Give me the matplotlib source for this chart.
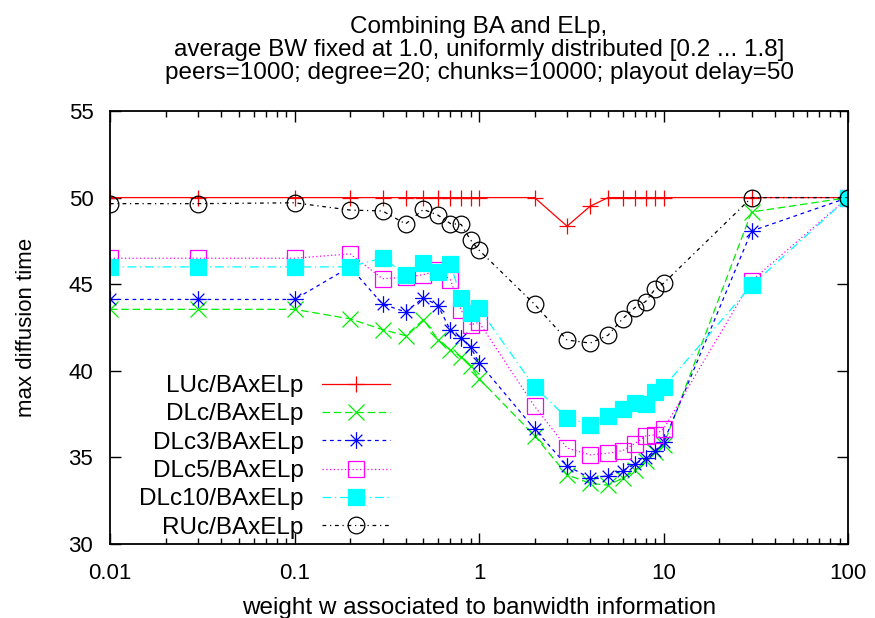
import matplotlib
matplotlib.use("Agg")
import matplotlib.pyplot as plt
from matplotlib.path import Path
from matplotlib.ticker import FuncFormatter, LogLocator, NullFormatter

plt.rcParams['font.family'] = ['Liberation Sans', 'DejaVu Sans']
plt.rcParams['font.size'] = 17.5

# weight w values (x axis)
weights = [0.01, 0.03, 0.1, 0.2, 0.3, 0.4, 0.5, 0.6, 0.7, 0.8, 0.9, 1,
           2, 3, 4, 5, 6, 7, 8, 9, 10, 30, 100]

# max diffusion time per strategy
luc = [50.0, 50.0, 50.0, 50.0, 50.0, 50.0, 50.0, 50.0, 50.0, 50.0, 50.0, 50.0,
       50.0, 48.35, 49.5, 50.0, 50.0, 50.0, 50.0, 50.0, 50.0, 50.0, 50.0]
dlc = [43.55, 43.55, 43.55, 43.0, 42.38, 42.03, 42.95, 41.8, 41.2, 40.8, 40.3, 39.55,
       36.25, 34.0, 33.5, 33.4, 33.8, 34.25, 34.8, 35.3, 35.7, 49.17, 50.0]
dlc3 = [44.12, 44.12, 44.12, 46.0, 43.85, 43.4, 44.22, 43.77, 42.33, 41.9, 41.37, 40.47,
        36.64, 34.52, 33.8, 33.94, 34.23, 34.62, 34.97, 35.39, 35.87, 48.07, 50.0]
dlc5 = [46.5, 46.5, 46.5, 46.75, 45.32, 45.4, 45.55, 45.8, 45.25, 43.5, 42.65, 42.8,
        37.95, 35.54, 35.15, 35.24, 35.39, 35.8, 36.24, 36.3, 36.64, 45.2, 50.0]
dlc10 = [46.0, 46.0, 46.0, 46.0, 46.52, 45.55, 46.25, 45.68, 46.18, 44.2, 43.35, 43.6,
         39.07, 37.28, 36.9, 37.38, 37.77, 38.12, 38.1, 38.8, 39.06, 44.93, 50.0]
ruc = [49.65, 49.65, 49.7, 49.28, 49.23, 48.48, 49.32, 48.98, 48.5, 48.45, 47.55, 46.97,
       43.84, 41.78, 41.6, 42.05, 43.0, 43.65, 44.0, 44.72, 45.05, 50.0, 50.0]

labels = ["LUc/BAxELp", "DLc/BAxELp", "DLc3/BAxELp", "DLc5/BAxELp",
          "DLc10/BAxELp", "RUc/BAxELp"]

# gnuplot style asterisk: plus and cross overlaid
star = Path([(-1, 0), (1, 0), (0, -1), (0, 1),
             (-0.7, -0.7), (0.7, 0.7), (-0.7, 0.7), (0.7, -0.7)],
            [Path.MOVETO, Path.LINETO] * 4)

fig = plt.figure(figsize=(8.75, 6.18), dpi=100)
ax = fig.add_axes([0.1257, 0.1197, 0.8435, 0.7007])

lw = 0.9
ax.plot(weights, luc, color="#ff0000", lw=lw, ls="-", marker="+",
        ms=12, mew=lw, label=labels[0])
ax.plot(weights, dlc, color="#00f000", lw=lw, ls=(0, (6, 3)), marker="x",
        ms=11.5, mew=lw, label=labels[1])
ax.plot(weights, dlc3, color="#0000ff", lw=lw, ls=(0, (3, 3)), marker=star,
        ms=12, mew=lw, label=labels[2])
ax.plot(weights, dlc5, color="#ff00ff", lw=lw, ls=(0, (1, 2)), marker="s",
        ms=12, mew=lw, mfc="none", label=labels[3])
ax.plot(weights, dlc10, color="#00ffff", lw=lw, ls=(0, (7, 3, 1, 3)), marker="s",
        ms=12, mew=lw, mec="#00ffff", label=labels[4])
ax.plot(weights, ruc, color="black", lw=lw, ls=(0, (3, 3, 1, 3)), marker="o",
        ms=12, mew=lw, mfc="none", label=labels[5])

ax.set_xscale("log")
ax.set_xlim(0.01, 100)
ax.set_ylim(30, 55)
ax.set_yticks([30, 35, 40, 45, 50, 55])
ax.xaxis.set_major_locator(LogLocator(base=10, numticks=10))
ax.xaxis.set_minor_locator(LogLocator(base=10, subs=range(2, 10), numticks=10))
ax.xaxis.set_minor_formatter(NullFormatter())
ax.xaxis.set_major_formatter(FuncFormatter(lambda v, p: f"{v:g}"))
ax.tick_params(which="both", direction="in", top=True, right=True, width=1,
               labelsize=16)
ax.tick_params(which="major", length=8)
ax.tick_params(which="minor", length=4)
ax.tick_params(axis="x", which="major", pad=14)
ax.tick_params(axis="y", which="major", pad=12)
for sp in ax.spines.values():
    sp.set_linewidth(1.3)

ax.set_xlabel("weight w associated to banwidth information", labelpad=9)
ax.set_ylabel("max diffusion time", fontsize=16, labelpad=23)
ax.set_title("Combining BA and ELp,\n"
             "average BW fixed at 1.0, uniformly distributed [0.2 ... 1.8]\n"
             "peers=1000; degree=20; chunks=10000; playout delay=50",
             fontsize=17.5, linespacing=1.05, pad=23)

ax.legend(loc="upper right", bbox_to_anchor=(0.379, 0.39), frameon=False,
          markerfirst=False, handlelength=2.8, handletextpad=0.75,
          labelspacing=0.26, borderpad=0, borderaxespad=0)

fig.savefig("out.png", dpi=100)
